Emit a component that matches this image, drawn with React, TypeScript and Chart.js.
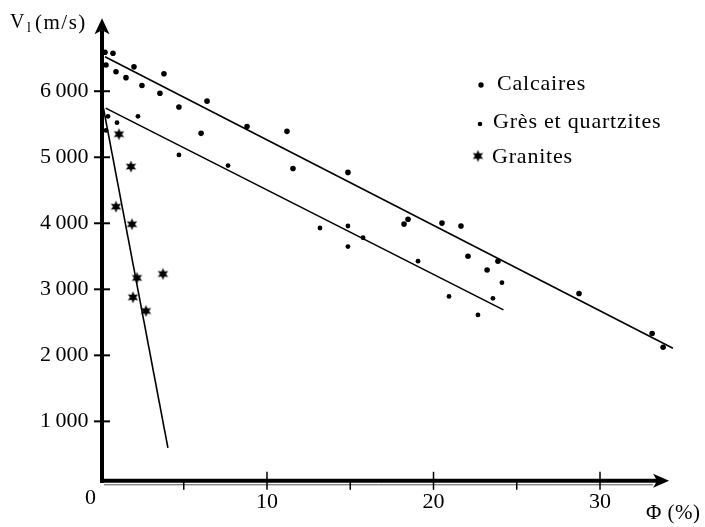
import React, { useEffect, useRef } from "react";
import { Chart, registerables } from "chart.js";

Chart.register(...registerables);

// ---- Data ----
const seriesNames = ["Calcaires", "Grès et quartzites", "Granites"];

const calcairesPhi = [0.27, 0.75, 0.33, 0.93, 1.53, 2.01, 2.49, 3.81, 3.57, 4.71, 6.4, 8.8, 6.04, 11.2, 11.56, 14.86, 18.47, 18.23, 20.51, 21.65, 22.07, 23.87, 23.22, 28.74, 33.13, 33.79];
const calcairesV = [6591, 6576, 6398, 6295, 6206, 6369, 6087, 6265, 5969, 5761, 5850, 5466, 5362, 5392, 4830, 4771, 4062, 3988, 4003, 3959, 3500, 3426, 3292, 2937, 2330, 2123];

const gresPhi = [0.33, 0.45, 0.99, 2.25, 4.71, 7.66, 13.18, 14.86, 15.77, 14.86, 19.07, 24.11, 20.93, 23.57, 22.67];
const gresV = [5407, 5620, 5524, 5620, 5036, 4874, 3929, 3959, 3781, 3648, 3426, 3101, 2893, 2864, 2612];

const granitesPhi = [1.11, 1.83, 0.93, 1.89, 2.19, 3.75, 1.95, 2.73];
const granitesV = [5350, 4859, 4252, 3986, 3173, 3232, 2879, 2672];

const calcairesFitPhi = [0.27, 34.38];
const calcairesFitV = [6522, 2108];
const gresFitPhi = [0.31, 24.2];
const gresFitV = [5744, 2689];
const granitesFitPhi = [0.18, 4.05];
const granitesFitV = [5740, 600];

const yTicks = [1000, 2000, 3000, 4000, 5000, 6000];
const yTickLabels = ["1\u2009000", "2\u2009000", "3\u2009000", "4\u2009000", "5\u2009000", "6\u2009000"];
const xTicks = [5, 10, 15, 20, 25, 30];
const xTickLabels = ["", "10", "", "20", "", "30"];
const originLabel = "0";
const yTitleMain = "V";
const yTitleSub = "l";
const yTitleUnit = "(m/s)";
const xTitle = "Φ (%)";

const FONT = "'Liberation Serif', 'DejaVu Serif', serif";

function zip(xs: number[], ys: number[]) {
  return xs.map((x, i) => ({ x, y: ys[i] }));
}

function makeStar(): HTMLCanvasElement {
  const c = document.createElement("canvas");
  c.width = 13;
  c.height = 13;
  const g = c.getContext("2d")!;
  const cx = 6.5, cy = 6.5, ro = 6, ri = 3;
  g.beginPath();
  for (let i = 0; i < 12; i++) {
    const r = i % 2 === 0 ? ro : ri;
    const a = -Math.PI / 2 + (i * Math.PI) / 6;
    const px = cx + r * Math.cos(a);
    const py = cy + r * Math.sin(a);
    if (i === 0) g.moveTo(px, py);
    else g.lineTo(px, py);
  }
  g.closePath();
  g.fillStyle = "#000";
  g.fill();
  return c;
}

export default function App() {
  const ref = useRef<HTMLCanvasElement | null>(null);

  useEffect(() => {
    if (!ref.current) return;
    const star = makeStar();

    const decor = {
      id: "decor",
      afterDraw(chart: any) {
        const ctx = chart.ctx as CanvasRenderingContext2D;
        const xs = chart.scales.x;
        const ys = chart.scales.y;
        const { left, right, top, bottom } = chart.chartArea;
        ctx.save();
        ctx.fillStyle = "#000";
        ctx.strokeStyle = "#000";

        // Y axis with arrow
        const ax = left + 1.5;
        const tipY = top - 7;
        ctx.lineWidth = 4;
        ctx.beginPath();
        ctx.moveTo(ax, bottom + 2);
        ctx.lineTo(ax, tipY + 12);
        ctx.stroke();
        ctx.beginPath();
        ctx.moveTo(ax, tipY);
        ctx.lineTo(ax - 7.5, tipY + 16);
        ctx.lineTo(ax, tipY + 12);
        ctx.lineTo(ax + 7.5, tipY + 16);
        ctx.closePath();
        ctx.fill();

        // X axis with arrow
        const tipX = right - 7.5;
        ctx.beginPath();
        ctx.moveTo(ax - 2, bottom);
        ctx.lineTo(tipX - 12, bottom);
        ctx.stroke();
        ctx.beginPath();
        ctx.moveTo(tipX, bottom);
        ctx.lineTo(tipX - 16, bottom - 7);
        ctx.lineTo(tipX - 12, bottom);
        ctx.lineTo(tipX - 16, bottom + 7);
        ctx.closePath();
        ctx.fill();

        // faint second line under x axis (print artefact)
        ctx.lineWidth = 1;
        ctx.strokeStyle = "#555";
        ctx.beginPath();
        ctx.moveTo(ax + 2, bottom + 4);
        ctx.lineTo(tipX - 16, bottom + 4);
        ctx.stroke();
        ctx.strokeStyle = "#000";

        // Y ticks crossing the axis
        ctx.lineWidth = 2;
        ys.ticks.forEach((t: any) => {
          const py = ys.getPixelForValue(t.value);
          ctx.beginPath();
          ctx.moveTo(ax - 8, py);
          ctx.lineTo(ax + 8, py);
          ctx.stroke();
        });

        // X ticks
        ctx.lineWidth = 1.5;
        xs.ticks.forEach((t: any, i: number) => {
          const px = xs.getPixelForValue(t.value);
          const major = xTickLabels[i] !== "";
          ctx.beginPath();
          ctx.moveTo(px, major ? bottom - 9 : bottom);
          ctx.lineTo(px, bottom + 9);
          ctx.stroke();
        });

        // origin label
        ctx.font = `22px ${FONT}`;
        ctx.textAlign = "center";
        ctx.textBaseline = "middle";
        ctx.fillText(originLabel, xs.getPixelForValue(0) - 10, bottom + 17);

        // Y axis title
        ctx.textAlign = "left";
        ctx.textBaseline = "alphabetic";
        (ctx as any).letterSpacing = "1.5px";
        ctx.font = `20px ${FONT}`;
        ctx.fillText(yTitleMain, 10, 28);
        ctx.font = `14px ${FONT}`;
        ctx.fillText(yTitleSub, 27, 32);
        ctx.font = `21px ${FONT}`;
        ctx.fillText(yTitleUnit, 35, 29);

        // X axis title
        ctx.font = `21px ${FONT}`;
        (ctx as any).letterSpacing = "0.5px";
        ctx.fillText(xTitle, 646, 519);

        // Legend
        const legendBase = [90, 128, 163];
        const legendTextX = [497, 493, 492];
        ctx.font = `22px ${FONT}`;
        (ctx as any).letterSpacing = "0.8px";
        seriesNames.forEach((name, i) => {
          ctx.fillText(name, legendTextX[i], legendBase[i]);
        });
        (ctx as any).letterSpacing = "0px";
        ctx.beginPath();
        ctx.arc(481, 85, 2.7, 0, Math.PI * 2);
        ctx.fill();
        ctx.beginPath();
        ctx.arc(480, 124, 2.3, 0, Math.PI * 2);
        ctx.fill();
        ctx.drawImage(star, 478 - 6.5, 156 - 6.5);

        ctx.restore();
      },
    };

    const lineStyle = {
      type: "line" as const,
      showLine: true,
      pointRadius: 0,
      borderColor: "#000",
      borderWidth: 1.6,
      fill: false,
    };

    const chart = new Chart(ref.current, {
      type: "scatter",
      data: {
        datasets: [
          { ...lineStyle, label: "fit-calc", data: zip(calcairesFitPhi, calcairesFitV) },
          { ...lineStyle, label: "fit-gres", data: zip(gresFitPhi, gresFitV) },
          { ...lineStyle, label: "fit-gran", data: zip(granitesFitPhi, granitesFitV) },
          {
            label: seriesNames[0],
            data: zip(calcairesPhi, calcairesV),
            pointStyle: "circle",
            pointRadius: 2.8,
            backgroundColor: "#000",
            borderColor: "#000",
            borderWidth: 0,
          },
          {
            label: seriesNames[1],
            data: zip(gresPhi, gresV),
            pointStyle: "circle",
            pointRadius: 2.4,
            backgroundColor: "#000",
            borderColor: "#000",
            borderWidth: 0,
          },
          {
            label: seriesNames[2],
            data: zip(granitesPhi, granitesV),
            pointStyle: star as any,
            pointRadius: 6,
            backgroundColor: "#000",
            borderColor: "#000",
          },
        ] as any,
      },
      options: {
        animation: false,
        responsive: false,
        devicePixelRatio: 1,
        layout: { padding: { left: 0, right: 28.4, top: 14.4, bottom: 0 } },
        plugins: {
          legend: { display: false },
          tooltip: { enabled: false },
        },
        scales: {
          x: {
            type: "linear",
            min: 0,
            max: 34.6,
            afterBuildTicks: (s: any) => {
              s.ticks = xTicks.map((v) => ({ value: v }));
            },
            afterFit: (s: any) => {
              s.height = 46.2;
            },
            ticks: {
              callback: (_v: any, i: number) => xTickLabels[i],
              font: { family: FONT, size: 22 },
              color: "#000",
              padding: 8,
              maxRotation: 0,
              autoSkip: false,
            },
            grid: { display: false, drawTicks: false },
            border: { display: false },
          },
          y: {
            type: "linear",
            min: 100,
            max: 7000,
            afterBuildTicks: (s: any) => {
              s.ticks = yTicks.map((v) => ({ value: v }));
            },
            afterFit: (s: any) => {
              s.width = 100.5;
            },
            ticks: {
              callback: (_v: any, i: number) => yTickLabels[i],
              font: { family: FONT, size: 22 },
              color: "#000",
              padding: 12,
              autoSkip: false,
            },
            grid: { display: false, drawTicks: false },
            border: { display: false },
          },
        },
      },
      plugins: [decor],
    });

    return () => chart.destroy();
  }, []);

  return (
    <div style={{ position: "absolute", left: 0, top: 0, width: 705, height: 527, background: "#fff" }}>
      <canvas ref={ref} width={705} height={527} style={{ display: "block" }} />
    </div>
  );
}
